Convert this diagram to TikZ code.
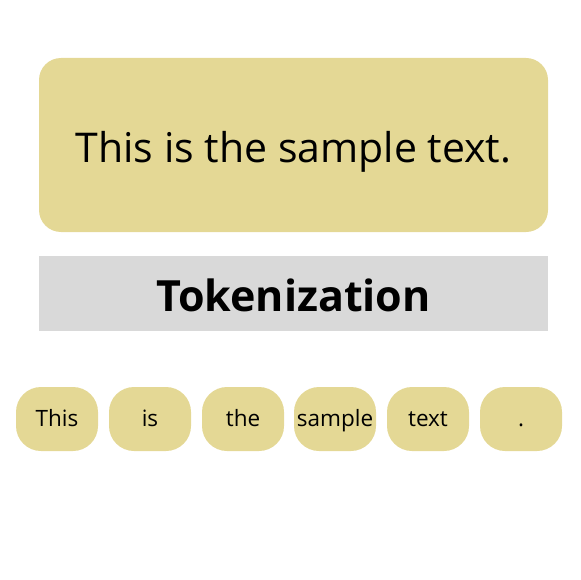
\documentclass[tikz,border=0pt]{standalone}
\usepackage{fontspec}
\setmainfont{Open Sans}
\definecolor{sand}{HTML}{E4D895}
\definecolor{greybar}{HTML}{D9D9D9}
\begin{document}
\begin{tikzpicture}[x=1pt,y=-1pt,
  sandbox/.style={fill=sand,rounded corners=22pt},
  tokbox/.style={fill=sand,rounded corners=25pt,minimum width=82pt,minimum height=64pt,inner sep=0pt,text height=17pt,text depth=3pt,font=\fontsize{22.5}{26}\selectfont},
]
\useasboundingbox (0,0) rectangle (580,580);
\path[sandbox] (39,58) rectangle (548,232);
\node[font=\fontsize{41}{48}\selectfont,anchor=base,inner sep=0pt] (main) at (293.5,162) {This is the sample text.};
\path[fill=greybar] (39,256) rectangle (548,331);
\node[font=\fontsize{43}{50}\selectfont\bfseries,anchor=base,inner sep=0pt] (tok) at (293.5,311) {Tokenization};
\node[tokbox] (t1) at (57,419) {This};
\node[tokbox] (t2) at (150,419) {is};
\node[tokbox] (t3) at (243,419) {the};
\node[tokbox] (t4) at (335,419) {sample};
\node[tokbox] (t5) at (428,419) {text};
\node[tokbox] (t6) at (521,419) {.};
\end{tikzpicture}
\end{document}
